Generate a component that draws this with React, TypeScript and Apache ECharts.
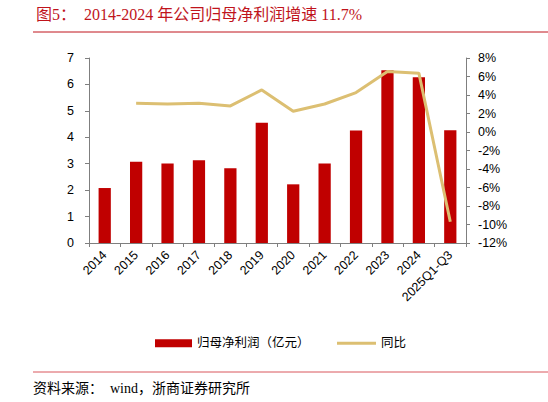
import { useEffect, useRef } from 'react';
import * as echarts from 'echarts';

// 横轴类目
const categories = ['2014', '2015', '2016', '2017', '2018', '2019', '2020', '2021', '2022', '2023', '2024', '2025Q1-Q3'];
// 归母净利润（亿元）
const profit = [2.08, 3.07, 3.01, 3.13, 2.83, 4.55, 2.22, 3.01, 4.26, 6.54, 6.27, 4.27];
// 同比（%）
const yoy = [null, 3.1, 3.03, 3.12, 2.82, 4.55, 2.25, 3.03, 4.26, 6.54, 6.36, -9.7];

const RED = '#c00000';
const GOLD = '#dcbf72';
const AXIS = '#7f7f7f';
const SANS = "'Liberation Sans', Arial, 'Noto Sans CJK SC', sans-serif";
const SERIF = "'Liberation Serif', 'Noto Sans CJK SC', serif";

export default function App() {
  const ref = useRef<HTMLDivElement>(null);

  useEffect(() => {
    if (!ref.current) return;
    const chart = echarts.init(ref.current, null, { renderer: 'svg' });
    chart.setOption({
      animation: false,
      backgroundColor: '#fff',
      grid: { left: 89, right: 82, top: 58, bottom: 159, containLabel: false },
      graphic: [
        {
          type: 'text',
          left: 36,
          top: 6,
          style: { text: '图5：  2014-2024 年公司归母净利润增速 11.7%', fill: '#c0141c', font: `16px ${SERIF}` },
        },
        { type: 'line', shape: { x1: 33, y1: 32, x2: 548, y2: 32 }, style: { stroke: '#c0141c', lineWidth: 1 } },
        { type: 'line', shape: { x1: 33, y1: 372, x2: 548, y2: 372 }, style: { stroke: '#d9575c', lineWidth: 1 } },
        {
          type: 'text',
          left: 33,
          top: 381,
          style: { text: '资料来源：  wind，浙商证券研究所', fill: '#000', font: `14px ${SERIF}` },
        },
      ],
      legend: [
        {
          data: [{ name: '归母净利润（亿元）', icon: 'rect' }],
          left: 150,
          top: 332,
          itemWidth: 37,
          itemHeight: 8,
          itemGap: 6,
          textStyle: { fontSize: 12.5, color: '#000', fontFamily: SANS },
        },
        {
          data: [{ name: '同比', icon: 'rect' }],
          left: 332,
          top: 332,
          itemWidth: 39,
          itemHeight: 3,
          textStyle: { fontSize: 12.5, color: '#000', fontFamily: SANS },
        },
      ],
      xAxis: {
        type: 'category',
        data: categories,
        boundaryGap: true,
        axisLine: { lineStyle: { color: AXIS } },
        axisTick: { show: true, alignWithLabel: false, length: 4, lineStyle: { color: AXIS } },
        axisLabel: { rotate: 45, interval: 0, color: '#000', fontSize: 12.5, fontFamily: SANS, margin: 10 },
      },
      yAxis: [
        {
          type: 'value',
          min: 0,
          max: 7,
          interval: 1,
          splitLine: { show: false },
          axisLine: { show: true, lineStyle: { color: AXIS } },
          axisTick: { show: true, length: 4, lineStyle: { color: AXIS } },
          axisLabel: { color: '#000', fontSize: 12.5, fontFamily: SANS, margin: 15 },
        },
        {
          type: 'value',
          min: -12,
          max: 8,
          interval: 2,
          splitLine: { show: false },
          axisLine: { show: true, lineStyle: { color: AXIS } },
          axisTick: { show: true, length: 4, lineStyle: { color: AXIS } },
          axisLabel: { color: '#000', fontSize: 12.5, fontFamily: SANS, margin: 12, formatter: '{value}%' },
        },
      ],
      series: [
        {
          name: '归母净利润（亿元）',
          type: 'bar',
          data: profit,
          barWidth: '39%',
          itemStyle: { color: RED },
        },
        {
          name: '同比',
          type: 'line',
          yAxisIndex: 1,
          data: yoy,
          symbol: 'none',
          lineStyle: { color: GOLD, width: 3 },
          itemStyle: { color: GOLD },
        },
      ],
    });
    return () => chart.dispose();
  }, []);

  return <div ref={ref} style={{ position: 'fixed', left: 0, top: 0, width: 548, height: 402 }} />;
}
